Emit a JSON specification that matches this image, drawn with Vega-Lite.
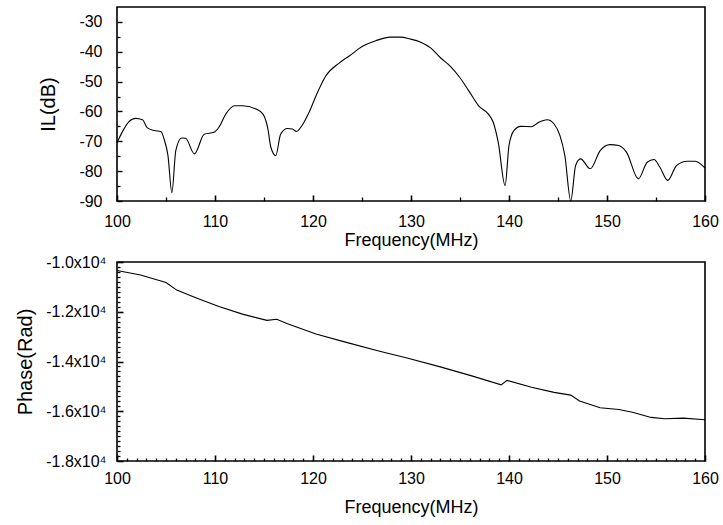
{
  "$schema": "https://vega.github.io/schema/vega-lite/v6.json",
  "background": "white",
  "padding": {"left": 14, "top": 6, "right": 5, "bottom": 5},
  "spacing": 3,
  "config": {
    "view": {"stroke": "black", "strokeWidth": 1.6},
    "font": "Liberation Sans",
    "axis": {
      "domain": false,
      "grid": false,
      "labelFont": "Liberation Sans",
      "labelFontSize": 16,
      "labelColor": "black",
      "titleFont": "Liberation Sans",
      "titleFontSize": 18,
      "titleFontWeight": "normal",
      "titleColor": "black",
      "tickColor": "black"
    },
    "line": {"color": "black", "strokeWidth": 1.1}
  },
  "datasets": {
    "il": [
      {"f": 100.0, "v": -70.5}, {"f": 100.6, "v": -66.5}, {"f": 101.2, "v": -63.5}, {"f": 101.9, "v": -62.3},
      {"f": 102.6, "v": -62.8}, {"f": 103.1, "v": -65.5}, {"f": 103.8, "v": -66.4}, {"f": 104.5, "v": -66.8},
      {"f": 104.8, "v": -69.2}, {"f": 105.2, "v": -74.8}, {"f": 105.6, "v": -87.2}, {"f": 106.0, "v": -73.1},
      {"f": 106.6, "v": -68.9}, {"f": 107.0, "v": -69.0}, {"f": 107.9, "v": -74.2}, {"f": 108.9, "v": -67.6},
      {"f": 109.9, "v": -67.0}, {"f": 110.4, "v": -65.3}, {"f": 111.1, "v": -60.9}, {"f": 112.0, "v": -58.1},
      {"f": 112.8, "v": -58.1}, {"f": 114.2, "v": -59.2}, {"f": 114.9, "v": -60.9}, {"f": 115.4, "v": -65.9},
      {"f": 115.7, "v": -72.0}, {"f": 116.2, "v": -74.8}, {"f": 116.7, "v": -67.6}, {"f": 117.4, "v": -65.7},
      {"f": 117.9, "v": -65.9}, {"f": 118.3, "v": -66.7}, {"f": 118.9, "v": -64.6}, {"f": 119.6, "v": -60.3},
      {"f": 120.3, "v": -54.8}, {"f": 121.3, "v": -48.1}, {"f": 122.7, "v": -43.7}, {"f": 123.7, "v": -41.4},
      {"f": 125.1, "v": -38.1}, {"f": 126.4, "v": -36.3}, {"f": 127.9, "v": -35.1}, {"f": 128.9, "v": -35.1},
      {"f": 129.9, "v": -35.7}, {"f": 131.0, "v": -36.8}, {"f": 132.0, "v": -38.7}, {"f": 133.0, "v": -42.0},
      {"f": 134.0, "v": -44.8}, {"f": 135.0, "v": -48.7}, {"f": 135.9, "v": -53.1}, {"f": 136.9, "v": -58.1},
      {"f": 137.9, "v": -60.9}, {"f": 138.4, "v": -63.7}, {"f": 138.9, "v": -70.3}, {"f": 139.6, "v": -84.8},
      {"f": 140.0, "v": -71.4}, {"f": 140.5, "v": -66.4}, {"f": 141.2, "v": -65.0}, {"f": 142.3, "v": -65.1},
      {"f": 143.0, "v": -63.7}, {"f": 143.9, "v": -62.8}, {"f": 144.6, "v": -64.2}, {"f": 145.2, "v": -68.1},
      {"f": 145.7, "v": -74.8}, {"f": 146.3, "v": -90.0}, {"f": 146.8, "v": -78.1}, {"f": 147.3, "v": -75.9},
      {"f": 148.3, "v": -79.2}, {"f": 149.3, "v": -73.1}, {"f": 150.3, "v": -71.1}, {"f": 151.2, "v": -71.4},
      {"f": 152.0, "v": -73.7}, {"f": 153.2, "v": -82.6}, {"f": 154.1, "v": -77.0}, {"f": 154.8, "v": -76.1},
      {"f": 155.4, "v": -78.7}, {"f": 156.2, "v": -83.1}, {"f": 157.1, "v": -78.1}, {"f": 158.2, "v": -76.7},
      {"f": 159.0, "v": -76.7}, {"f": 160.0, "v": -79.0}
    ],
    "phase": [
      {"f": 100.0, "v": -10345}, {"f": 102.4, "v": -10524}, {"f": 105.0, "v": -10827}, {"f": 106.1, "v": -11131},
      {"f": 108.1, "v": -11448}, {"f": 110.4, "v": -11793}, {"f": 112.8, "v": -12096}, {"f": 115.3, "v": -12345},
      {"f": 116.3, "v": -12303}, {"f": 117.4, "v": -12483}, {"f": 120.3, "v": -12896}, {"f": 123.5, "v": -13241},
      {"f": 126.8, "v": -13586}, {"f": 129.6, "v": -13862}, {"f": 132.9, "v": -14207}, {"f": 136.2, "v": -14579},
      {"f": 139.2, "v": -14938}, {"f": 139.8, "v": -14759}, {"f": 142.3, "v": -15034}, {"f": 144.6, "v": -15241},
      {"f": 146.3, "v": -15351}, {"f": 147.2, "v": -15586}, {"f": 149.3, "v": -15862}, {"f": 151.2, "v": -15931},
      {"f": 152.6, "v": -16041}, {"f": 154.5, "v": -16248}, {"f": 155.9, "v": -16303}, {"f": 157.8, "v": -16275},
      {"f": 160.0, "v": -16344}
    ]
  },
  "vconcat": [
    {
      "width": 588,
      "height": 194,
      "data": {"name": "il"},
      "layer": [
        {
          "mark": {"type": "line", "interpolate": "monotone"},
          "encoding": {
            "x": {"field": "f", "type": "quantitative",
              "scale": {"domain": [100, 160], "nice": false},
              "axis": {"orient": "bottom", "values": [100, 110, 120, 130, 140, 150, 160], "tickSize": -6, "tickWidth": 1.6,
                "labelPadding": 18, "title": "Frequency(MHz)", "titlePadding": 2, "labelFlush": false}},
            "y": {"field": "v", "type": "quantitative",
              "scale": {"domain": [-90, -25], "nice": false, "zero": false},
              "axis": {"orient": "left", "values": [-90, -80, -70, -60, -50, -40, -30], "tickSize": -5, "tickWidth": 1.4,
                "labelPadding": 20, "labelExpr": "'' + datum.value", "title": "IL(dB)", "titleFontSize": 20, "titlePadding": 20}}
          }
        },
        {
          "mark": {"type": "line", "opacity": 0},
          "encoding": {
            "x": {"field": "f", "type": "quantitative",
              "axis": {"orient": "bottom", "values": [105, 115, 125, 135, 145, 155], "tickSize": -4, "tickWidth": 1.3, "labels": false, "title": null}},
            "y": {"field": "v", "type": "quantitative",
              "axis": {"orient": "left", "values": [-85, -75, -65, -55, -45, -35], "tickSize": -3, "tickWidth": 1.3, "labels": false, "title": null}}
          }
        }
      ],
      "resolve": {"axis": {"x": "independent", "y": "independent"}}
    },
    {
      "width": 588,
      "height": 199,
      "data": {"name": "phase"},
      "layer": [
        {
          "mark": {"type": "line"},
          "encoding": {
            "x": {"field": "f", "type": "quantitative",
              "scale": {"domain": [100, 160], "nice": false},
              "axis": {"orient": "bottom", "values": [100, 110, 120, 130, 140, 150, 160], "tickSize": -6, "tickWidth": 1.6,
                "labelPadding": 15, "title": "Frequency(MHz)", "titlePadding": 12, "labelFlush": false}},
            "y": {"field": "v", "type": "quantitative",
              "scale": {"domain": [-18000, -10000], "nice": false, "zero": false},
              "axis": {"orient": "left", "values": [-18000, -16000, -14000, -12000, -10000], "tickSize": -6, "tickWidth": 1.6,
                "labelPadding": 17, "labelExpr": "'-' + format(abs(datum.value) / 10000, '.1f') + 'x10⁴'", "title": "Phase(Rad)", "titleFontSize": 20, "titlePadding": 10}}
          }
        },
        {
          "mark": {"type": "line", "opacity": 0},
          "encoding": {
            "x": {"field": "f", "type": "quantitative",
              "axis": {"orient": "bottom", "values": [101,102,103,104,105,106,107,108,109,111,112,113,114,115,116,117,118,119,121,122,123,124,125,126,127,128,129,131,132,133,134,135,136,137,138,139,141,142,143,144,145,146,147,148,149,151,152,153,154,155,156,157,158,159],
                "tickSize": -3, "tickWidth": 1.3, "labels": false, "title": null}},
            "y": {"field": "v", "type": "quantitative",
              "axis": {"orient": "left", "values": [-17800,-17600,-17400,-17200,-17000,-16800,-16600,-16400,-16200,-15800,-15600,-15400,-15200,-15000,-14800,-14600,-14400,-14200,-13800,-13600,-13400,-13200,-13000,-12800,-12600,-12400,-12200,-11800,-11600,-11400,-11200,-11000,-10800,-10600,-10400,-10200],
                "tickSize": -3, "tickWidth": 1.3, "labels": false, "title": null}}
          }
        }
      ],
      "resolve": {"axis": {"x": "independent", "y": "independent"}}
    }
  ]
}
